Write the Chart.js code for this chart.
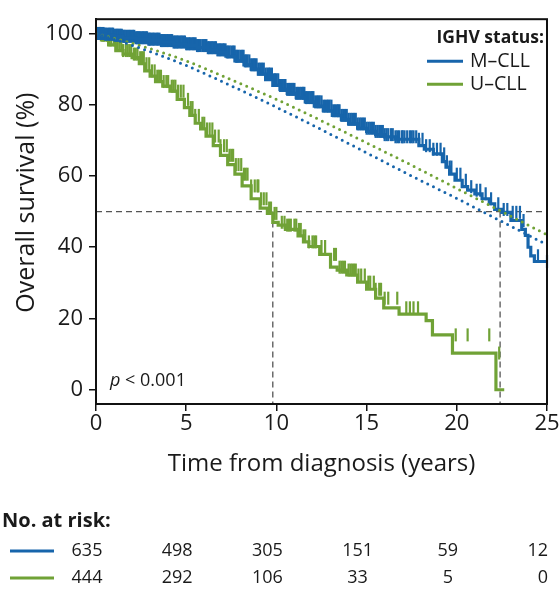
<!DOCTYPE html>
<html>
<head>
<meta charset="utf-8">
<script src="https://cdn.jsdelivr.net/npm/chart.js@4.4.1/dist/chart.umd.min.js"></script>
<style>
  html, body { margin: 0; padding: 0; background: #fff; }
</style>
</head>
<body>
<canvas id="osChart" width="560" height="591"></canvas>
<script>
// x ticks and the time points of the risk table
const years = [0, 5, 10, 15, 20, 25];
const survTicks = [0, 20, 40, 60, 80, 100];
const groups = ['M\u2013CLL', 'U\u2013CLL'];

// Kaplan-Meier steps: [years, survival %]
const mcllSteps = [
  [0, 100], [0.5, 99.8], [1.0, 99.5], [1.5, 99.2], [2.2, 98.8], [2.9, 98.4], [3.6, 98.0],
  [4.3, 97.6], [5.0, 97.1], [5.6, 96.6], [6.2, 96.0], [6.7, 95.4], [7.2, 94.8], [7.7, 93.6],
  [8.2, 92.3], [8.6, 91.2], [9.0, 90.0], [9.4, 88.6], [9.8, 87.0], [10.2, 85.4], [10.6, 84.3],
  [11.1, 83.2], [11.6, 82.0], [12.1, 80.8], [12.6, 79.6], [13.1, 78.3], [13.6, 77.0],
  [14.0, 75.9], [14.5, 74.6], [15.0, 73.4], [15.5, 72.5], [16.0, 71.6], [16.6, 71.0],
  [17.9, 70.3], [18.2, 68.5], [18.7, 67.5], [19.2, 66.2], [19.4, 64.0], [19.6, 62.5],
  [19.9, 60.5], [20.3, 58.8], [20.6, 57.0], [21.0, 56.0], [21.4, 55.0], [21.8, 53.6],
  [22.1, 52.2], [22.5, 50.6], [23.0, 49.8], [23.6, 47.5], [23.8, 45.0], [23.95, 43.3],
  [24.1, 40.0], [24.3, 37.6], [24.9, 36.0], [25.0, 36.0]
];
const ucllSteps = [
  [0, 100], [0.3, 99.5], [0.7, 98.2], [1.1, 96.8], [1.5, 95.2], [2.0, 94.2], [2.4, 93.2],
  [2.7, 91.5], [3.0, 89.5], [3.3, 88.0], [3.7, 86.5], [4.1, 85.2], [4.5, 83.8], [4.9, 81.5],
  [5.2, 79.2], [5.5, 77.0], [5.8, 74.8], [6.1, 73.2], [6.5, 71.2], [6.9, 68.5], [7.3, 65.8],
  [7.7, 63.2], [8.1, 60.5], [8.6, 57.2], [9.1, 53.6], [9.5, 51.0], [9.8, 49.5], [10.1, 47.0],
  [10.5, 46.2], [11.2, 45.0], [11.5, 43.2], [11.8, 41.5], [12.4, 40.2], [13.0, 38.0],
  [13.37, 34.4], [13.9, 33.6], [14.5, 32.2], [15.0, 30.2], [15.5, 28.2], [15.95, 25.7],
  [16.8, 23.0], [18.3, 21.2], [18.65, 19.4], [19.76, 15.4], [22.17, 10.3], [22.63, 0]
];

// censoring times (years)
const mcllCensored = [
  0.08, 0.15, 0.22, 0.3, 0.36, 0.42, 0.5, 0.55, 0.63, 0.7, 0.76, 0.82, 0.9, 0.95, 1.03, 1.1,
  1.17, 1.22, 1.3, 1.35, 1.43, 1.5, 1.56, 1.6, 1.69, 1.75, 1.83, 1.9, 1.97, 2.05, 2.12, 2.2,
  2.27, 2.32, 2.39, 2.45, 2.53, 2.6, 2.68, 2.75, 2.83, 2.9, 2.96, 3.0, 3.08, 3.15, 3.22, 3.3,
  3.38, 3.45, 3.52, 3.6, 3.66, 3.72, 3.79, 3.85, 3.93, 4.0, 4.08, 4.15, 4.22, 4.3, 4.36,
  4.42, 4.49, 4.55, 4.63, 4.7, 4.78, 4.85, 4.93, 5.0, 5.07, 5.15, 5.22, 5.3, 5.38, 5.45,
  5.52, 5.6, 5.66, 5.72, 5.8, 5.9, 5.97, 6.05, 6.12, 6.2, 6.27, 6.35, 6.42, 6.5, 6.58, 6.65,
  6.73, 6.8, 6.88, 6.95, 7.03, 7.1, 7.18, 7.25, 7.33, 7.4, 7.5, 7.6, 7.68, 7.75, 7.83, 7.9,
  8.0, 8.1, 8.18, 8.25, 8.33, 8.4, 8.5, 8.6, 8.68, 8.75, 8.83, 8.9, 9.0, 9.1, 9.2, 9.3, 9.4,
  9.5, 9.58, 9.65, 9.75, 9.85, 9.93, 10.0, 10.1, 10.2, 10.28, 10.35, 10.43, 10.5, 10.6,
  10.7, 10.78, 10.85, 10.93, 11.0, 11.1, 11.2, 11.3, 11.4, 11.48, 11.55, 11.63, 11.7, 11.8,
  11.9, 11.98, 12.05, 12.15, 12.25, 12.33, 12.4, 12.5, 12.6, 12.7, 12.8, 12.88, 12.95,
  13.05, 13.15, 13.25, 13.35, 13.43, 13.5, 13.6, 13.7, 13.8, 13.9, 14.0, 14.1, 14.2, 14.3,
  14.4, 14.5, 14.6, 14.7, 14.8, 14.9, 15.0, 15.1, 15.2, 15.3, 15.4, 15.5, 15.6, 15.7, 15.8,
  15.9, 16.0, 16.1, 16.2, 16.35, 16.45, 16.6, 16.7, 16.8, 16.95, 17.0, 17.1, 17.25, 17.4,
  17.5, 17.6, 17.75, 17.9, 18.1, 18.3, 18.5, 18.7, 18.9, 19.1, 19.3, 19.45, 19.6, 19.7,
  20.0, 20.2, 20.5, 20.8, 21.1, 21.3, 21.6, 21.9, 22.3, 22.6, 22.8, 23.1, 23.3, 23.5, 23.7,
  24.5, 25.0
];
const ucllCensored = [
  0.1, 0.2, 0.35, 0.45, 0.6, 0.75, 0.85, 1.0, 1.1, 1.2, 1.3, 1.4, 1.5, 1.65, 1.75, 1.85,
  1.95, 2.1, 2.2, 2.3, 2.45, 2.55, 2.65, 2.8, 2.95, 3.1, 3.25, 3.4, 3.5, 3.6, 3.75, 3.9, 4.0,
  4.2, 4.3, 4.4, 4.55, 4.7, 4.85, 5.1, 5.25, 5.35, 5.5, 5.7, 5.9, 6.0, 6.15, 6.3, 6.45, 6.6,
  6.8, 6.9, 7.1, 7.25, 7.4, 7.5, 7.6, 7.75, 7.9, 8.05, 8.2, 8.3, 8.4, 8.6, 8.8, 8.95, 9.0,
  9.15, 9.3, 9.45, 9.6, 9.7, 9.9, 10.0, 10.3, 10.45, 10.6, 10.7, 10.8, 11.0, 11.1, 11.25,
  11.35, 11.5, 11.6, 11.8, 12.0, 12.1, 12.2, 12.5, 12.7, 13.2, 13.3, 13.5, 13.6, 13.7, 13.8,
  14.0, 14.1, 14.2, 14.3, 14.4, 14.55, 14.7, 14.9, 15.1, 15.2, 15.4, 15.5, 15.7, 15.8, 16.0,
  16.2, 16.7, 17.2, 17.4, 17.6, 17.85, 19.94, 20.6, 21.8, 22.35
];

// expected survival of matched general population
const mcllExpected = [
  [0, 100], [2.5, 95.8], [5, 91.0], [7.5, 85.3], [10, 79.3], [12.5, 73.0], [15, 66.5],
  [17.5, 60.0], [20, 53.7], [22.5, 47.2], [25, 40.7]
];
const ucllExpected = [
  [0, 100], [2.5, 96.5], [5, 92.3], [7.5, 87.0], [10, 81.5], [12.5, 75.5], [15, 69.3],
  [17.5, 63.0], [20, 56.5], [22.5, 50.0], [25, 43.5]
];

const mcllAtRisk = [635, 498, 305, 151, 59, 12];
const ucllAtRisk = [444, 292, 106, 33, 5, 0];
const medianYears = [22.4, 9.8];
const medianLevel = 50;

const BLUE = '#1765ab';
const GREEN = '#70a236';
const INK = '#1a1a1a';
const FONT = '"Open Sans", sans-serif';

const toXY = pairs => pairs.map(([x, y]) => ({ x, y }));
function survAt(steps, t) {
  let s = steps[0][1];
  for (const [tt, v] of steps) if (tt <= t) s = v;
  return s;
}
const censorPoints = (steps, times) => times.map(t => ({ x: t, y: survAt(steps, t) }));

Chart.defaults.font.family = FONT;
Chart.defaults.color = INK;

const kmLine = (data, color) => ({
  data: toXY(data), showLine: true, stepped: 'after', borderColor: color,
  borderWidth: 3.2, pointRadius: 0, order: 2
});
const censorMarks = (data, color) => ({
  data: data, showLine: false, pointStyle: 'line', pointRotation: 90, pointRadius: 6.5,
  borderColor: color, pointBorderWidth: 2.2, clip: false, order: 2
});
const expectedLine = (data, color) => ({
  data: toXY(data), showLine: true, borderColor: color, borderWidth: 3,
  borderDash: [0, 6.4], borderCapStyle: 'round', cubicInterpolationMode: 'monotone',
  pointRadius: 0, order: 1
});

const overlay = {
  id: 'overlay',
  beforeDatasetsDraw(chart) {
    const { ctx, chartArea: a, scales: { x, y } } = chart;
    const yMid = y.getPixelForValue(medianLevel);
    ctx.save();
    ctx.strokeStyle = '#555';
    ctx.lineWidth = 1.3;
    ctx.setLineDash([6, 4]);
    ctx.beginPath();
    ctx.moveTo(a.left, yMid);
    ctx.lineTo(a.right, yMid);
    medianYears.forEach(m => {
      const px = x.getPixelForValue(m);
      ctx.moveTo(px, yMid);
      ctx.lineTo(px, a.bottom);
    });
    ctx.stroke();
    ctx.restore();
  },
  afterDraw(chart) {
    const { ctx, chartArea: a, scales: { x } } = chart;
    ctx.save();
    // frame
    ctx.strokeStyle = '#111';
    ctx.lineWidth = 2;
    ctx.strokeRect(a.left, a.top, a.right - a.left, a.bottom - a.top);

    // y axis title
    ctx.fillStyle = INK;
    ctx.textBaseline = 'middle';
    ctx.save();
    ctx.translate(27, (a.top + a.bottom) / 2 - 9);
    ctx.rotate(-Math.PI / 2);
    ctx.textAlign = 'center';
    ctx.font = `25px ${FONT}`;
    ctx.fillText('Overall survival (%)', 0, 0);
    ctx.restore();

    // legend
    ctx.font = `bold 17.5px ${FONT}`;
    ctx.textAlign = 'right';
    ctx.fillText('IGHV status:', a.right - 3, a.top + 19);
    ctx.font = `19.5px ${FONT}`;
    ctx.textAlign = 'left';
    [BLUE, GREEN].forEach((c, i) => {
      const ly = a.top + 42 + i * 23;
      ctx.strokeStyle = c;
      ctx.lineWidth = 3;
      ctx.beginPath();
      ctx.moveTo(a.right - 120, ly);
      ctx.lineTo(a.right - 84, ly);
      ctx.stroke();
      ctx.fillStyle = INK;
      ctx.fillText(groups[i], a.right - 77, ly);
    });

    // p-value
    ctx.font = `italic 18px ${FONT}`;
    ctx.fillText('p', a.left + 14, a.bottom - 23);
    const pw = ctx.measureText('p').width;
    ctx.font = `18px ${FONT}`;
    ctx.fillText(' < 0.001', a.left + 14 + pw, a.bottom - 23);

    // number at risk table
    ctx.font = `bold 20px ${FONT}`;
    ctx.fillText('No. at risk:', 2, 521);
    ctx.font = `18px ${FONT}`;
    [[mcllAtRisk, BLUE], [ucllAtRisk, GREEN]].forEach(([counts, c], r) => {
      const ry = 551 + r * 27;
      ctx.strokeStyle = c;
      ctx.lineWidth = 3;
      ctx.beginPath();
      ctx.moveTo(10, ry);
      ctx.lineTo(54, ry);
      ctx.stroke();
      counts.forEach((n, i) => {
        const last = i === counts.length - 1;
        ctx.textAlign = last ? 'right' : 'center';
        const px = x.getPixelForValue(years[i]) + (last ? 1 : -9);
        ctx.fillText(String(n), px, ry);
      });
    });
    ctx.restore();
  }
};

new Chart(document.getElementById('osChart'), {
  type: 'scatter',
  data: {
    datasets: [
      kmLine(mcllSteps, BLUE),
      censorMarks(censorPoints(mcllSteps, mcllCensored), BLUE),
      kmLine(ucllSteps, GREEN),
      censorMarks(censorPoints(ucllSteps, ucllCensored), GREEN),
      expectedLine(mcllExpected, BLUE),
      expectedLine(ucllExpected, GREEN)
    ]
  },
  options: {
    responsive: false,
    animation: false,
    events: [],
    layout: { padding: { top: 8, right: 13, left: 0, bottom: 111 } },
    plugins: { legend: { display: false }, tooltip: { enabled: false } },
    scales: {
      x: {
        type: 'linear', min: 0, max: 25,
        afterBuildTicks: s => { s.ticks = years.map(v => ({ value: v })); },
        afterFit: s => { s.height = 76; },
        grid: { drawOnChartArea: false, tickLength: 7, color: '#111', lineWidth: 1.5 },
        border: { color: '#111', width: 2 },
        ticks: { font: { size: 22 }, padding: 0, maxRotation: 0 },
        title: { display: true, text: 'Time from diagnosis (years)', font: { size: 24 }, padding: { bottom: 1, top: 0 } }
      },
      y: {
        type: 'linear', min: -4, max: 104,
        afterBuildTicks: s => { s.ticks = survTicks.map(v => ({ value: v })); },
        afterFit: s => { s.width = 96; },
        grid: { drawOnChartArea: false, tickLength: 7, color: '#111', lineWidth: 1.5 },
        border: { color: '#111', width: 2 },
        ticks: { font: { size: 22 }, padding: 6 }
      }
    }
  },
  plugins: [overlay]
});
</script>
</body>
</html>
